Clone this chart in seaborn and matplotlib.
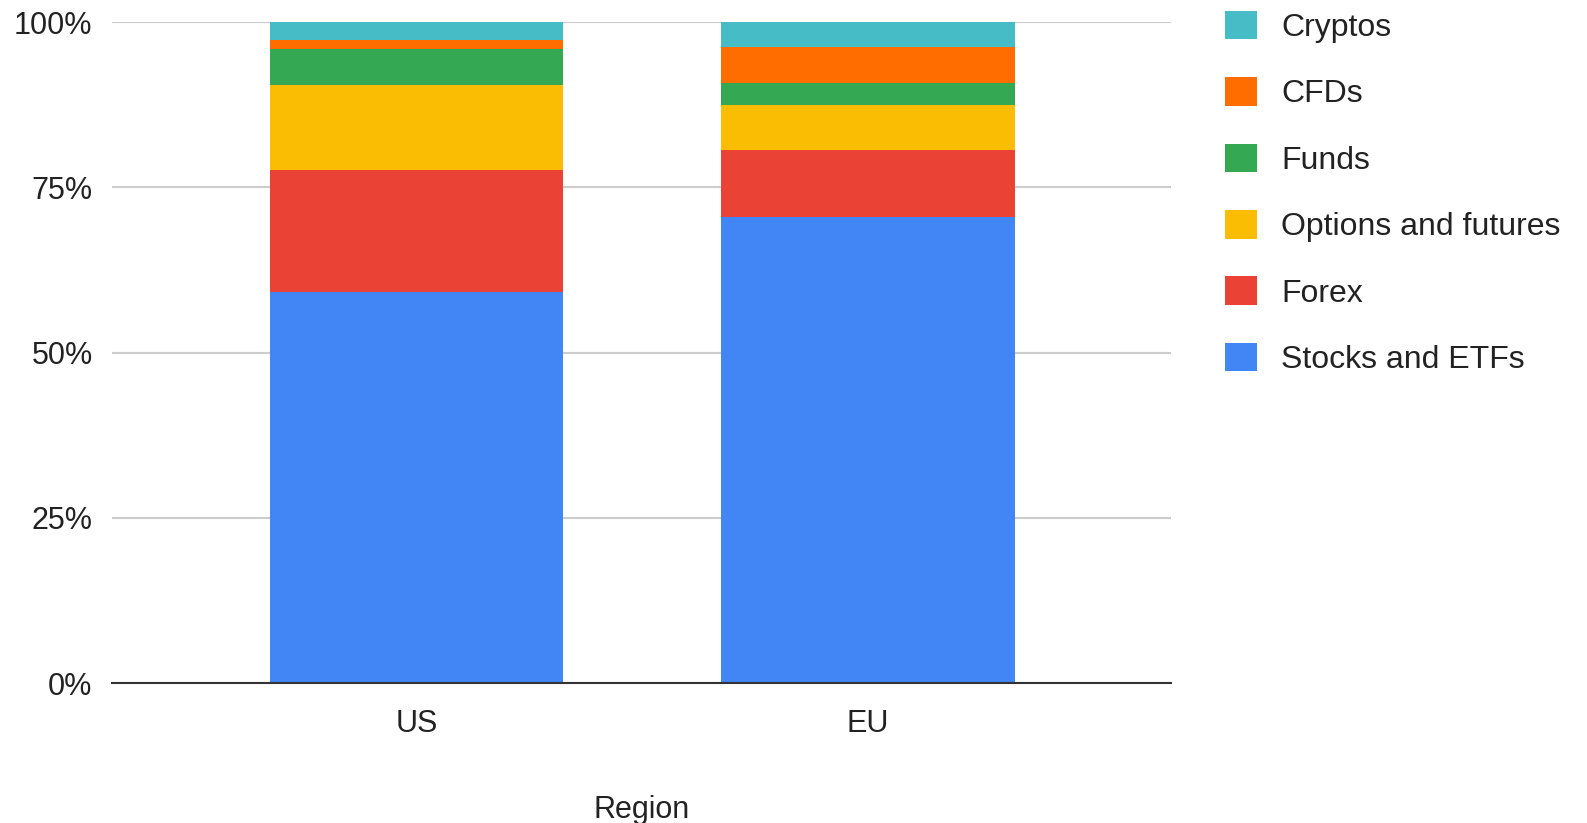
import matplotlib
matplotlib.use("Agg")
import matplotlib.pyplot as plt
import seaborn as sns
import numpy as np
from matplotlib.patches import Patch
from matplotlib.ticker import FuncFormatter

regions = ["US", "EU"]
stocks_etfs = [59.2, 70.5]
forex = [18.4, 10.1]
options_futures = [12.9, 6.9]
funds = [5.5, 3.3]
cfds = [1.3, 5.5]
cryptos = [2.7, 3.7]

series_names = ["Stocks and ETFs", "Forex", "Options and futures", "Funds", "CFDs", "Cryptos"]
series_vals = [stocks_etfs, forex, options_futures, funds, cfds, cryptos]
colors = ["#4285F4", "#EA4335", "#FBBC04", "#34A853", "#FF6D01", "#46BDC6"]

sns.set_style("white")
plt.rcParams["font.family"] = ["Liberation Sans", "DejaVu Sans"]

fig = plt.figure(figsize=(15.87, 8.23), dpi=100)
ax = fig.add_axes([0.0706, 0.170, 0.6674, 0.803])

# normalise to 100% and stack: draw cumulative totals from the top down
vals = np.array(series_vals, dtype=float)
vals = vals / vals.sum(axis=0) * 100
cum = np.cumsum(vals, axis=0)
for i in range(len(series_names) - 1, -1, -1):
    sns.barplot(x=regions, y=cum[i], color=colors[i], width=0.65,
                saturation=1, linewidth=0, ax=ax, zorder=3)

ax.set_ylim(0, 100)
ax.set_xlim(-0.674, 1.671)
ax.set_yticks([0, 25, 50, 75, 100])
ax.yaxis.set_major_formatter(FuncFormatter(lambda v, p: f"{v:.0f}%"))
ax.grid(axis="y", color="#cccccc", linewidth=1.5, zorder=0)
ax.set_axisbelow(True)
for s in ["top", "right", "left"]:
    ax.spines[s].set_visible(False)
ax.spines["bottom"].set_color("#333333")
ax.spines["bottom"].set_linewidth(1.5)
ax.spines["bottom"].set_zorder(4)
ax.tick_params(axis="both", length=0, labelsize=22, colors="#222222")
ax.tick_params(axis="y", pad=14)
ax.tick_params(axis="x", pad=19)
ax.set_xlabel("Region", fontsize=22, color="#222222", labelpad=40)
ax.set_ylabel("")

handles = [Patch(facecolor=colors[i], edgecolor="none", label=series_names[i])
           for i in range(len(series_names) - 1, -1, -1)]
fig.legend(handles=handles, loc="upper left", bbox_to_anchor=(0.772, 0.987),
           frameon=False, fontsize=23, handlelength=1.0, handleheight=1.0,
           handletextpad=0.75, labelspacing=1.07, borderpad=0, borderaxespad=0,
           labelcolor="#222222")

fig.savefig("out.png", dpi=100)
